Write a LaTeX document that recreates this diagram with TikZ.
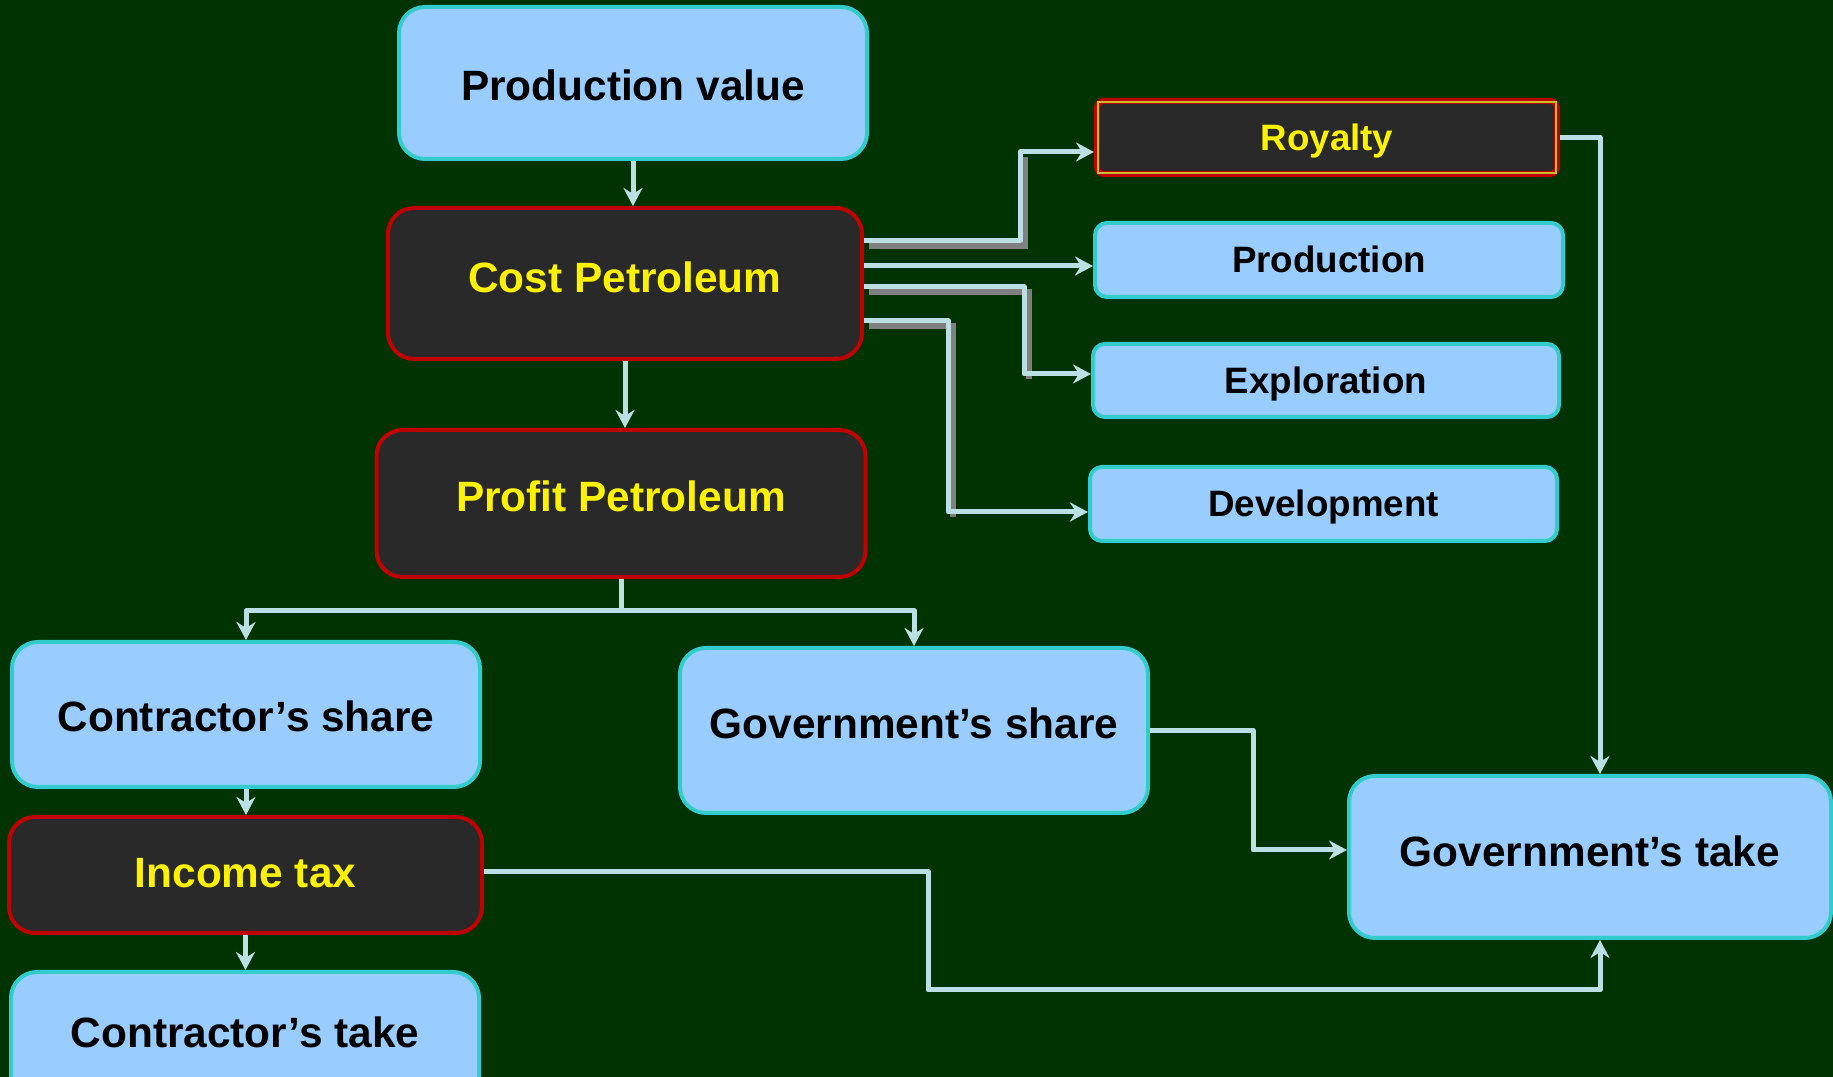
\documentclass[tikz,border=0pt]{standalone}
\usepackage{fontspec}
\setmainfont{Liberation Sans}
\usetikzlibrary{arrows.meta,calc,positioning}

\definecolor{bggreen}{RGB}{0,51,0}
\definecolor{boxblue}{RGB}{153,204,255}
\definecolor{boxcyan}{RGB}{51,204,204}
\definecolor{boxdark}{RGB}{41,41,41}
\definecolor{boxred}{RGB}{192,0,0}
\definecolor{linklight}{RGB}{187,224,227}
\definecolor{shadowgrey}{RGB}{128,128,128}

\begin{document}
\begin{tikzpicture}[x=0.1mm, y=-0.1mm, >={Stealth[length=1.8mm,width=1.9mm]},
    box/.style={rectangle, rounded corners=2.6mm, line width=0.4mm, inner sep=0pt,
        font=\bfseries\fontsize{12.06pt}{14pt}\selectfont},
    light/.style={box, fill=boxblue, draw=boxcyan},
    dark/.style={box, fill=boxdark, draw=boxred, text=yellow},
    small/.style={rounded corners=1.2mm, font=\bfseries\fontsize{10.45pt}{12pt}\selectfont},
    boxsize/.style n args={3}{minimum width=#1, text height=#2, text depth=#3},
    link/.style={linklight, line width=0.5mm, line join=round},
    shade/.style={shadowgrey, line width=0.55mm, transform canvas={shift={(0.5mm,-0.5mm)}}}]

    \useasboundingbox (0,0) rectangle (1833,1077);
    \clip (0,0) rectangle (1833,1077);
    \fill[bggreen] (0,0) rectangle (1833,1077);

    \node[light, boxsize={46.8mm}{9.4mm}{5.8mm}] (pv) at (633,83) {Production value};
    \node[dark, boxsize={47.4mm}{8.5mm}{6.6mm}] (cp) at (625,283.5) {Cost Petroleum};
    \node[dark, boxsize={48.9mm}{8.2mm}{6.5mm}] (pp) at (621,503.5) {Profit Petroleum};
    \node[light, boxsize={46.8mm}{9.0mm}{5.5mm}] (cs) at (246,714.5) {Contractor’s share};
    \node[dark, boxsize={47.3mm}{7.1mm}{4.5mm}] (it) at (245.5,875) {Income tax};
    \node[light, boxsize={46.8mm}{7.6mm}{6.4mm}] (ct) at (245,1042) {Contractor’s take};
    \node[light, boxsize={46.8mm}{9.1mm}{7.4mm}] (gs) at (914,730.5) {Government’s share};
    \node[light, boxsize={48.2mm}{9.1mm}{7.1mm}] (gt) at (1590,857) {Government’s take};

    \node[dark, small, rounded corners=0.7mm, line width=0.6mm, boxsize={46.0mm}{5.0mm}{2.3mm}] (roy) at (1327,137.5) {Royalty};
    \draw[yellow!75!black, line width=0.15mm] ([shift={(0.4mm,-0.4mm)}]roy.north west) rectangle ([shift={(-0.4mm,0.4mm)}]roy.south east);
    \node[light, small, boxsize={46.8mm}{5.0mm}{2.4mm}] (prod) at (1329,260) {Production};
    \node[light, small, boxsize={46.6mm}{5.0mm}{2.3mm}] (expl) at (1326,380.5) {Exploration};
    \node[light, small, boxsize={46.7mm}{5.0mm}{2.4mm}] (dev) at (1323.5,504) {Development};

    \coordinate (c1) at ([yshift=4.25mm]cp.east);
    \coordinate (c2) at ([yshift=1.75mm]cp.east);
    \coordinate (c3) at ([yshift=-0.35mm]cp.east);
    \coordinate (c4) at ([yshift=-3.75mm]cp.east);

    \draw[shade] (c1) -- ++(156,0) -- ++(0,-89);
    \draw[shade] (c3) -- ++(160,0) -- ++(0,87);
    \draw[shade] (c4) -- ++(84,0) -- ++(0,191);

    \draw[link,->] (c1) -- ++(156,0) |- ([yshift=-1.45mm]roy.west);
    \draw[link,->] (c2) -- (c2 -| prod.west);
    \draw[link,->] (c3) -- ++(160,0) |- ([yshift=0.65mm]expl.west);
    \draw[link,->] (c4) -- ++(84,0) |- ([yshift=-0.8mm]dev.west);

    \draw[link,->] (pv.south) -- (pv.south |- cp.north);
    \draw[link,->] (cp.south) -- (cp.south |- pp.north);
    \draw[link] (pp.south) -- ++(0,32) coordinate (fork);
    \draw[link,->] (fork) -| (cs.north);
    \draw[link,->] (fork) -| (gs.north);
    \draw[link,->] (cs.south) -- (cs.south |- it.north);
    \draw[link,->] (it.south) -- (it.south |- ct.north);

    \draw[link,->] (roy.east) -| ([xshift=1mm]gt.north);
    \draw[link,->] (gs.east) -- ++(103,0) |- ([yshift=0.7mm]gt.west);
    \draw[link,->] ([yshift=0.3mm]it.east) -- ++(444,0) -- ++(0,118) -| ([xshift=1mm]gt.south);

\end{tikzpicture}
\end{document}
